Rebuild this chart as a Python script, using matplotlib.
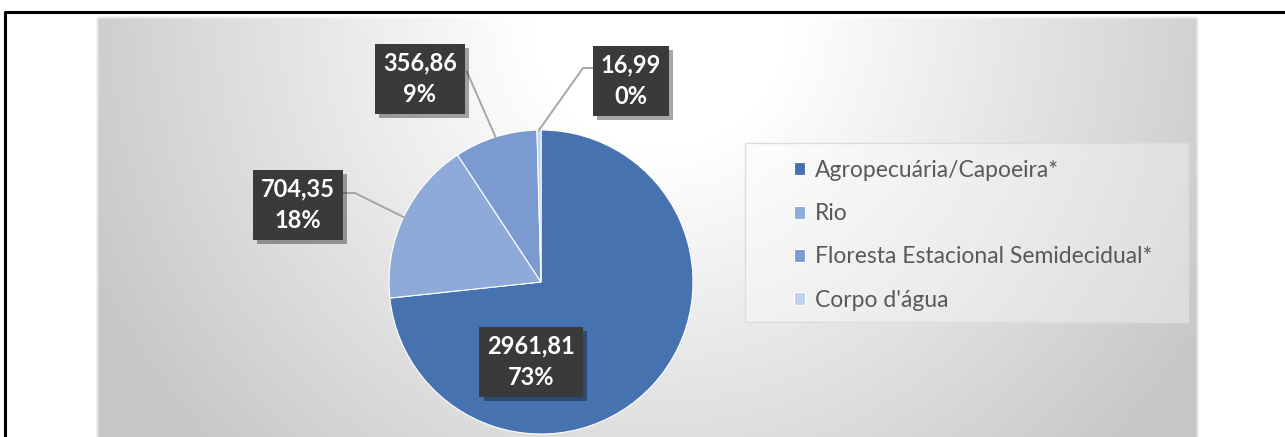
import numpy as np
import matplotlib
matplotlib.use("Agg")
import matplotlib.pyplot as plt
from matplotlib.patches import Rectangle
import matplotlib.patheffects as pe

plt.rcParams["font.family"] = ["Lato", "DejaVu Sans"]

# Land-cover areas (ha) and their shares
categories = ["Agropecuária/Capoeira*", "Rio",
              "Floresta Estacional Semidecidual*", "Corpo d'água"]
areas = [2961.81, 704.35, 356.86, 16.99]
area_labels = ["2961,81", "704,35", "356,86", "16,99"]
pct_labels = ["73%", "18%", "9%", "0%"]
colors = ["#4672b0", "#8eaad9", "#7b9bd0", "#bfd1ee"]

W, H = 1285, 437
fig = plt.figure(figsize=(W / 100, H / 100), dpi=100)
ax = fig.add_axes([0, 0, 1, 1])

# chart panel with a soft radial grey gradient
px0, px1, ptop = 97, 1197, 17
rows, cols = np.mgrid[0:H, 0:W]
dist = np.hypot(cols - 660, rows - 20)
shade = 1 - np.clip((dist - 130) / 500, 0, 1) * 0.22
edge = (np.clip((cols - px0) / 4 + 0.5, 0, 1)
        * np.clip((px1 - cols) / 4 + 0.5, 0, 1)
        * np.clip((rows - ptop) / 4 + 0.5, 0, 1))
grey = 1 - edge * (1 - shade)
ax.imshow(np.dstack([grey, grey, grey]), extent=(0, W, 0, H), origin="upper",
          aspect="auto", interpolation="bilinear", zorder=0)

# outer frame
ax.plot([5, 5, W], [0, H - 11.5, H - 11.5], color="black", lw=2.2,
        solid_capstyle="butt", zorder=1)

# pie
cx, cy, r = 541, H - 282, 152
wedges, _ = ax.pie(areas, colors=colors, startangle=90, counterclock=False,
                   center=(cx, cy), radius=r, frame=True,
                   wedgeprops=dict(edgecolor="white", linewidth=0.8))
for w in wedges:
    w.set_zorder(2)

# data-label boxes (centres in pixel rows from the top) and leader-line knees
box_centres = [(531, 362), (298, 205), (420, 79), (631, 81)]
knees = [None, [(355, 193), (343, 193)], [(467, 72)], [(583, 68), (593, 68)]]

for i, w in enumerate(wedges):
    bx, by = box_centres[i]
    t = ax.text(bx, H - by, f"{area_labels[i]}\n{pct_labels[i]}",
                ha="center", va="center", color="white", fontsize=17,
                fontweight="bold", linespacing=1.45, zorder=5,
                bbox=dict(boxstyle="square,pad=0.33", fc="#3a3a3a", ec="none"))
    t.get_bbox_patch().set_path_effects(
        [pe.SimplePatchShadow(offset=(3, -3), shadow_rgbFace="black", alpha=0.35),
         pe.Normal()])
    if knees[i] is not None:
        mid = np.deg2rad((w.theta1 + w.theta2) / 2)
        xs = [cx + r * np.cos(mid)] + [k[0] for k in knees[i]]
        ys = [cy + r * np.sin(mid)] + [H - k[1] for k in knees[i]]
        ax.plot(xs, ys, color="#a6a6a6", lw=1.4, zorder=3)

# legend panel
ax.add_patch(Rectangle((745, H - 322), 1188 - 745, 322 - 143,
                       fc="white", alpha=0.35, ec="none", zorder=1))
ax.add_patch(Rectangle((745, H - 322), 1188 - 745, 322 - 143,
                       fc="none", ec="#dcdcdc", lw=1, zorder=1))
leg = ax.legend(wedges, categories, loc="upper left",
                bbox_to_anchor=(794, H - 160), bbox_transform=ax.transData,
                frameon=False, fontsize=16.5, handlelength=0.5, handleheight=0.5,
                handletextpad=0.4, labelspacing=0.97, borderpad=0,
                borderaxespad=0)
for txt in leg.get_texts():
    txt.set_color("#595959")
leg.set_zorder(4)

ax.set_xlim(0, W)
ax.set_ylim(0, H)
ax.axis("off")

fig.savefig("out.png", dpi=100)
